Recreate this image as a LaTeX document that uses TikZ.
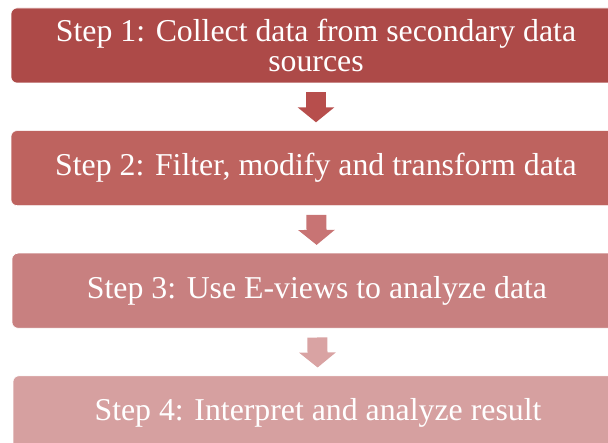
\documentclass[tikz,border=0pt]{standalone}
\usepackage{fontspec}
\setmainfont{Liberation Serif}
\usetikzlibrary{positioning,arrows.meta}
\definecolor{stepA}{HTML}{AD4A48}
\definecolor{stepB}{HTML}{BE635F}
\definecolor{stepC}{HTML}{C88080}
\definecolor{stepD}{HTML}{D6A0A0}
\definecolor{flowA}{HTML}{B74E4C}
\definecolor{flowB}{HTML}{C87474}
\definecolor{flowC}{HTML}{D9A3A3}
\tikzset{
  stepbox/.style={draw=white,line width=0.6pt,rounded corners=6pt,text=white,align=center,
    minimum width=610pt,minimum height=75pt,inner sep=0pt,
    font=\fontsize{31.8}{30.5}\selectfont},
  flow/.style={line width=20pt,-{Triangle[width=36pt,length=15pt]},shorten <=9pt,shorten >=8pt}
}
\begin{document}
\begin{tikzpicture}[x=1pt,y=1pt]
\useasboundingbox (0,0) rectangle (608,-443);
\clip (0,0) rectangle (608,-443);
% steps
\node[stepbox,fill=stepA] (collect) at (316,-45.5) {Step 1: Collect data from secondary data\\sources};
\node[stepbox,fill=stepB,below=47pt of collect] (filter) {Step 2: Filter, modify and transform data};
\node[stepbox,fill=stepC,below=47pt of filter,xshift=1pt] (eviews) {Step 3: Use E-views to analyze data};
\node[stepbox,fill=stepD,below=47pt of eviews,xshift=1pt] (interpret) {Step 4: Interpret and analyze result};
% arrows
\draw[flow,flowA] (collect) -- (filter);
\draw[flow,flowB] (filter) -- (eviews);
\draw[flow,flowC] (eviews) -- (interpret);
\end{tikzpicture}
\end{document}
